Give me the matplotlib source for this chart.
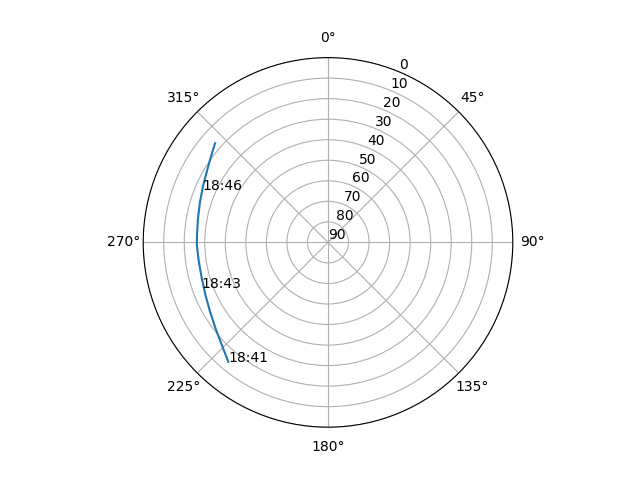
import numpy as np
import matplotlib
matplotlib.use('Agg')
from matplotlib import pyplot as plt

# satellite pass track: azimuth (deg) and elevation (deg)
azimuth = [219.9, 226.0, 232.5, 239.6, 246.5, 254.1, 261.5, 268.9, 273.2, 280.5, 287.6, 294.8, 301.6, 306.5, 311.3]
elevation = [14.3, 18.1, 21.0, 23.4, 25.0, 26.1, 26.4, 26.1, 26.1, 25.6, 24.6, 23.1, 21.2, 19.2, 16.8]

label_times = ['18:41', '18:43', '18:46']
label_az = [219.9, 250.1, 292.7]
label_el = [14.3, 24.6, 23.9]

fig = plt.figure(figsize=(6.4, 4.8), dpi=100)
ax = plt.subplot(1, 1, 1, projection='polar')
ax.set_theta_zero_location('N')
ax.set_theta_direction(-1)

ax.plot(np.radians(azimuth), elevation)
for t, a, e in zip(label_times, label_az, label_el):
    ax.text(np.radians(a), e, t)

ax.set_ylim(90, 0)
ax.set_yticks(range(0, 91, 10))

plt.savefig('out.png')
